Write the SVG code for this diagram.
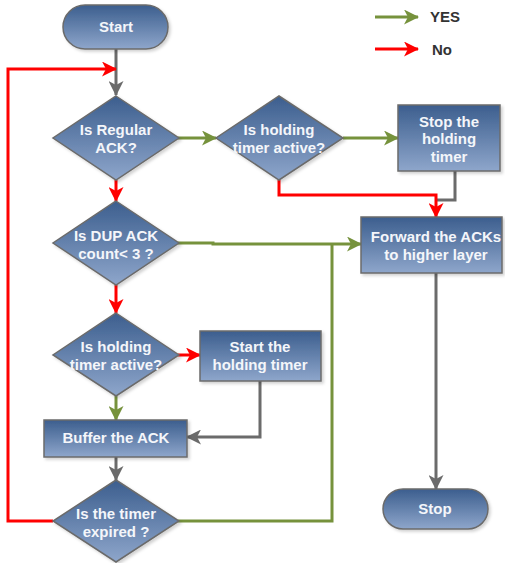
<svg xmlns="http://www.w3.org/2000/svg" width="505" height="563" viewBox="0 0 505 563">
<defs>
<linearGradient id="g" x1="0" y1="0" x2="0" y2="1">
<stop offset="0" stop-color="#3c5e8e"/>
<stop offset="1" stop-color="#8ea6cb"/>
</linearGradient>
<filter id="sh" x="-10%" y="-10%" width="130%" height="130%">
<feDropShadow dx="2" dy="2" stdDeviation="1.5" flood-color="#000" flood-opacity="0.18"/>
</filter>
<marker id="ag" markerUnits="userSpaceOnUse" markerWidth="15" markerHeight="15" refX="14" refY="7.5" orient="auto"><path d="M0,0 L15,7.5 L0,15 L4,7.5 Z" fill="#76923c"/></marker>
<marker id="ar" markerUnits="userSpaceOnUse" markerWidth="15" markerHeight="15" refX="14" refY="7.5" orient="auto"><path d="M0,0 L15,7.5 L0,15 L4,7.5 Z" fill="#ff0000"/></marker>
<marker id="ay" markerUnits="userSpaceOnUse" markerWidth="15" markerHeight="15" refX="14" refY="7.5" orient="auto"><path d="M0,0 L15,7.5 L0,15 L4,7.5 Z" fill="#6b6b6b"/></marker>
</defs>
<style>
.n{fill:url(#g);stroke:#6b6b6b;stroke-width:1.5;filter:url(#sh)}
.t{font-family:"Liberation Sans",Arial,sans-serif;font-weight:bold;font-size:15px;fill:#f4f6fa;text-anchor:middle}
.l{font-family:"Liberation Sans",Arial,sans-serif;font-weight:bold;font-size:15px;fill:#333333}
.cg{fill:none;stroke:#76923c;stroke-width:3}
.cr{fill:none;stroke:#ff0000;stroke-width:3}
.cy{fill:none;stroke:#6b6b6b;stroke-width:3}
</style>
<g id="connectors">
<path class="cy" d="M116,49 V95" marker-end="url(#ay)"/>
<path class="cr" d="M53,521 H8 V69 H116" marker-end="url(#ar)"/>
<path class="cg" d="M178,138 H216" marker-end="url(#ag)"/>
<path class="cg" d="M343,138 H398" marker-end="url(#ag)"/>
<path class="cy" d="M455,171 V200 H436"/>
<path class="cr" d="M279,180 V195 H436 V217" marker-end="url(#ar)"/>
<path class="cr" d="M116,180 V201" marker-end="url(#ar)"/>
<path class="cg" d="M178,243 H213 V244 H361" marker-end="url(#ag)"/>
<path class="cg" d="M178,521 H332 V244"/>
<path class="cr" d="M116,285 V313" marker-end="url(#ar)"/>
<path class="cr" d="M178,355 H200" marker-end="url(#ar)"/>
<path class="cg" d="M116,396 V420" marker-end="url(#ag)"/>
<path class="cy" d="M260,381 V437 H187" marker-end="url(#ay)"/>
<path class="cy" d="M116,457 V480" marker-end="url(#ay)"/>
<path class="cy" d="M436,273 V489" marker-end="url(#ay)"/>
</g>
<g id="legend">
<path class="cg" d="M375,17 H418" marker-end="url(#ag)"/>
<text class="l" x="430" y="22">YES</text>
<path class="cr" d="M375,49 H418" marker-end="url(#ar)"/>
<text class="l" x="432" y="55">No</text>
</g>
<g id="start">
<rect class="n" x="63" y="5" width="105" height="44" rx="22"/>
<text class="t" x="116" y="32">Start</text>
</g>
<g id="regular">
<path class="n" d="M116,96 L179,138 L116,180 L53,138 Z"/>
<text class="t" x="116" y="135">Is Regular</text>
<text class="t" x="116" y="153">ACK?</text>
</g>
<g id="holding1">
<path class="n" d="M279,96 L343,138 L279,180 L216,138 Z"/>
<text class="t" x="279" y="135">Is holding</text>
<text class="t" x="279" y="153">timer active?</text>
</g>
<g id="stopholding">
<rect class="n" x="398" y="105" width="102" height="66"/>
<text class="t" x="449" y="127">Stop the</text>
<text class="t" x="449" y="144">holding</text>
<text class="t" x="449" y="162">timer</text>
</g>
<g id="forward">
<rect class="n" x="361" y="217" width="141" height="56"/>
<text class="t" x="436" y="242">Forward the ACKs</text>
<text class="t" x="436" y="260">to higher layer</text>
</g>
<g id="dup">
<path class="n" d="M116,201 L179,243 L116,285 L53,243 Z"/>
<text class="t" x="116" y="241">Is DUP ACK</text>
<text class="t" x="116" y="259">count&lt; 3 ?</text>
</g>
<g id="holding2">
<path class="n" d="M116,313 L179,355 L116,396 L53,355 Z"/>
<text class="t" x="116" y="352">Is holding</text>
<text class="t" x="116" y="370">timer active?</text>
</g>
<g id="startholding">
<rect class="n" x="200" y="331" width="121" height="50"/>
<text class="t" x="260" y="352">Start the</text>
<text class="t" x="260" y="370">holding timer</text>
</g>
<g id="buffer">
<rect class="n" x="44" y="420" width="143" height="37"/>
<text class="t" x="116" y="443">Buffer the ACK</text>
</g>
<g id="expired">
<path class="n" d="M116,480 L179,521 L116,562 L53,521 Z"/>
<text class="t" x="116" y="519">Is the timer</text>
<text class="t" x="116" y="537">expired ?</text>
</g>
<g id="stop">
<rect class="n" x="383" y="489" width="105" height="40" rx="20"/>
<text class="t" x="435" y="514">Stop</text>
</g>
</svg>
